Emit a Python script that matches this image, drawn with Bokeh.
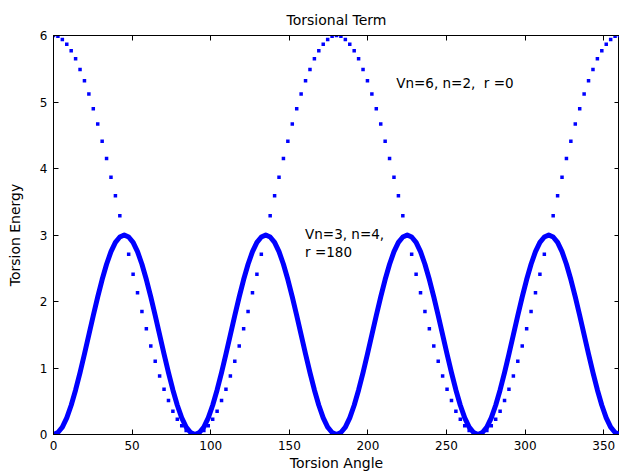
from bokeh.plotting import figure
from bokeh.models import LinearAxis, Label, Range1d, FixedTicker
from bokeh.embed import file_html
from bokeh.resources import INLINE

# Torsion angle (degrees), sampled every 2.8125 deg
angle = [
    0, 2.81, 5.63, 8.44, 11.25, 14.06, 16.88, 19.69, 22.5, 25.31, 28.13, 30.94, 33.75, 36.56, 39.38, 42.19,
    45, 47.81, 50.63, 53.44, 56.25, 59.06, 61.88, 64.69, 67.5, 70.31, 73.13, 75.94, 78.75, 81.56, 84.38, 87.19,
    90, 92.81, 95.63, 98.44, 101.25, 104.06, 106.88, 109.69, 112.5, 115.31, 118.13, 120.94, 123.75, 126.56, 129.38, 132.19,
    135, 137.81, 140.63, 143.44, 146.25, 149.06, 151.88, 154.69, 157.5, 160.31, 163.13, 165.94, 168.75, 171.56, 174.38, 177.19,
    180, 182.81, 185.63, 188.44, 191.25, 194.06, 196.88, 199.69, 202.5, 205.31, 208.13, 210.94, 213.75, 216.56, 219.38, 222.19,
    225, 227.81, 230.63, 233.44, 236.25, 239.06, 241.88, 244.69, 247.5, 250.31, 253.13, 255.94, 258.75, 261.56, 264.38, 267.19,
    270, 272.81, 275.63, 278.44, 281.25, 284.06, 286.88, 289.69, 292.5, 295.31, 298.13, 300.94, 303.75, 306.56, 309.38, 312.19,
    315, 317.81, 320.63, 323.44, 326.25, 329.06, 331.88, 334.69, 337.5, 340.31, 343.13, 345.94, 348.75, 351.56, 354.38, 357.19,
    360,
]

# Vn=6, n=2, gamma=0 (dotted series)
energy_n2 = [
    6.00, 5.99, 5.94, 5.87, 5.77, 5.65, 5.49, 5.32, 5.12, 4.90, 4.67, 4.41, 4.15, 3.87, 3.59, 3.29,
    3.00, 2.71, 2.41, 2.13, 1.85, 1.59, 1.33, 1.10, 0.88, 0.68, 0.51, 0.35, 0.23, 0.13, 0.06, 0.01,
    0.00, 0.01, 0.06, 0.13, 0.23, 0.35, 0.51, 0.68, 0.88, 1.10, 1.33, 1.59, 1.85, 2.13, 2.41, 2.71,
    3.00, 3.29, 3.59, 3.87, 4.15, 4.41, 4.67, 4.90, 5.12, 5.32, 5.49, 5.65, 5.77, 5.87, 5.94, 5.99,
    6.00, 5.99, 5.94, 5.87, 5.77, 5.65, 5.49, 5.32, 5.12, 4.90, 4.67, 4.41, 4.15, 3.87, 3.59, 3.29,
    3.00, 2.71, 2.41, 2.13, 1.85, 1.59, 1.33, 1.10, 0.88, 0.68, 0.51, 0.35, 0.23, 0.13, 0.06, 0.01,
    0.00, 0.01, 0.06, 0.13, 0.23, 0.35, 0.51, 0.68, 0.88, 1.10, 1.33, 1.59, 1.85, 2.13, 2.41, 2.71,
    3.00, 3.29, 3.59, 3.87, 4.15, 4.41, 4.67, 4.90, 5.12, 5.32, 5.49, 5.65, 5.77, 5.87, 5.94, 5.99,
    6.00,
]

# Vn=3, n=4, gamma=180 (solid series)
energy_n4 = [
    0.00, 0.03, 0.11, 0.25, 0.44, 0.67, 0.93, 1.21, 1.50, 1.79, 2.07, 2.33, 2.56, 2.75, 2.89, 2.97,
    3.00, 2.97, 2.89, 2.75, 2.56, 2.33, 2.07, 1.79, 1.50, 1.21, 0.93, 0.67, 0.44, 0.25, 0.11, 0.03,
    0.00, 0.03, 0.11, 0.25, 0.44, 0.67, 0.93, 1.21, 1.50, 1.79, 2.07, 2.33, 2.56, 2.75, 2.89, 2.97,
    3.00, 2.97, 2.89, 2.75, 2.56, 2.33, 2.07, 1.79, 1.50, 1.21, 0.93, 0.67, 0.44, 0.25, 0.11, 0.03,
    0.00, 0.03, 0.11, 0.25, 0.44, 0.67, 0.93, 1.21, 1.50, 1.79, 2.07, 2.33, 2.56, 2.75, 2.89, 2.97,
    3.00, 2.97, 2.89, 2.75, 2.56, 2.33, 2.07, 1.79, 1.50, 1.21, 0.93, 0.67, 0.44, 0.25, 0.11, 0.03,
    0.00, 0.03, 0.11, 0.25, 0.44, 0.67, 0.93, 1.21, 1.50, 1.79, 2.07, 2.33, 2.56, 2.75, 2.89, 2.97,
    3.00, 2.97, 2.89, 2.75, 2.56, 2.33, 2.07, 1.79, 1.50, 1.21, 0.93, 0.67, 0.44, 0.25, 0.11, 0.03,
    0.00,
]

x_ticks = [0, 50, 100, 150, 200, 250, 300, 350]
y_ticks = [0, 1, 2, 3, 4, 5, 6]

FONT = "DejaVu Sans"
BLUE = "#0000ff"
NB = "\u00a0"

p = figure(width=619, height=474, output_backend="svg", toolbar_location=None,
           x_range=Range1d(0, 360), y_range=Range1d(0, 6),
           title="Torsional Term",
           min_border_left=53, min_border_right=0, min_border_top=35, min_border_bottom=40)

p.background_fill_color = "white"
p.border_fill_color = "white"
p.outline_line_color = "black"
p.grid.visible = False

p.title.align = "center"
p.title.text_font = FONT
p.title.text_font_size = "14px"
p.title.text_font_style = "normal"
p.title.text_color = "black"
p.title.standoff = 16

def style_axis(ax, ticks, show_labels):
    ax.ticker = FixedTicker(ticks=ticks)
    ax.major_tick_in = 5
    ax.major_tick_out = 0
    ax.minor_tick_line_color = None
    ax.axis_line_color = "black"
    ax.major_tick_line_color = "black"
    ax.major_label_text_font = FONT
    ax.major_label_text_color = "black"
    if show_labels:
        ax.major_label_text_font_size = "12px"
        ax.major_label_standoff = 6
    else:
        ax.major_label_overrides = {t: "" for t in ticks}
        ax.major_label_text_font_size = "1px"
        ax.major_label_standoff = 0
    ax.axis_label_text_font = FONT
    ax.axis_label_text_font_size = "14px"
    ax.axis_label_text_font_style = "normal"
    ax.axis_label_text_color = "black"

xa = p.xaxis[0]
ya = p.yaxis[0]
style_axis(xa, x_ticks, True)
style_axis(ya, y_ticks, True)
xa.axis_label = "Torsion Angle"
ya.axis_label = "Torsion Energy"
xa.axis_label_standoff = 2
ya.axis_label_standoff = 14

top = LinearAxis()
style_axis(top, x_ticks, False)
p.add_layout(top, "above")
right = LinearAxis()
style_axis(right, y_ticks, False)
p.add_layout(right, "right")

p.scatter(angle, energy_n2, marker="square", size=3.5, color=BLUE, line_width=0)
p.line(angle, energy_n4, line_width=5, color=BLUE, line_join="round")

for txt, x, y in [("Vn=6," + NB + "n=2," + NB + NB + "r" + NB + "=0", 218, 5.28),
                  ("Vn=3," + NB + "n=4,", 160, 3.02),
                  ("r" + NB + "=180", 160, 2.74)]:
    p.add_layout(Label(x=x, y=y, text=txt, text_font=FONT, text_font_size="13.5px",
                       text_baseline="middle", text_align="left", text_color="black"))

open("out.html", "w").write(file_html(p, INLINE))
